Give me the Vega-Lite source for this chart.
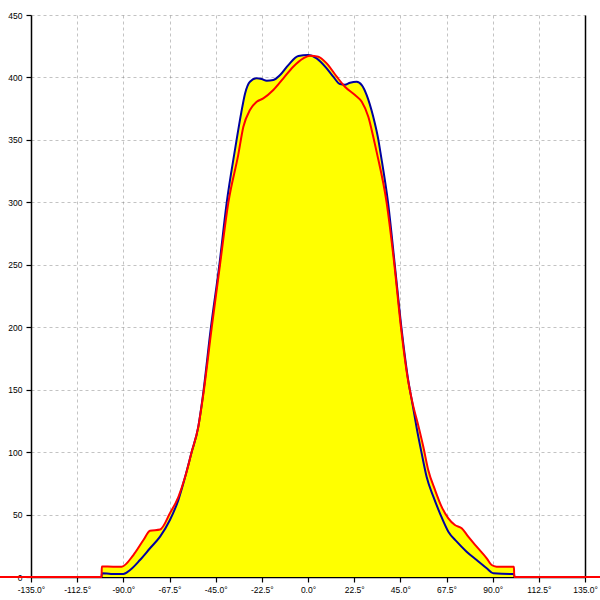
{
  "$schema": "https://vega.github.io/schema/vega-lite/v6.json",
  "width": 554,
  "height": 562,
  "autosize": {"type": "none"},
  "padding": {"left": 31, "top": 15, "right": 15, "bottom": 23},
  "background": "white",
  "config": {
    "view": {"stroke": null},
    "axis": {
      "labelFont": "Liberation Sans",
      "labelFontSize": 8.5,
      "labelColor": "black",
      "domainColor": "black",
      "domainWidth": 1.5,
      "tickColor": "black",
      "tickSize": 5,
      "tickWidth": 1.2,
      "gridColor": "#888888",
      "gridOpacity": 0.5,
      "gridDash": [3, 3],
      "gridWidth": 1,
      "title": null,
      "zindex": 1
    }
  },
  "datasets": {
    "blue": [
      {"a": -100.6, "v": 0}, {"a": -100.5, "v": 3}, {"a": -96, "v": 2.5}, {"a": -90, "v": 2.4},
      {"a": -86.7, "v": 5.6}, {"a": -81.9, "v": 13.6}, {"a": -77, "v": 23}, {"a": -72.1, "v": 32.3},
      {"a": -67.3, "v": 45.6}, {"a": -63.2, "v": 61.6}, {"a": -59.9, "v": 80}, {"a": -56.7, "v": 100},
      {"a": -53.5, "v": 120}, {"a": -51.4, "v": 143}, {"a": -47.3, "v": 200}, {"a": -43.2, "v": 250},
      {"a": -39.6, "v": 300}, {"a": -35.6, "v": 342}, {"a": -34.8, "v": 350}, {"a": -32.5, "v": 372},
      {"a": -30.7, "v": 387}, {"a": -28.3, "v": 396.6}, {"a": -25, "v": 399.3}, {"a": -22.6, "v": 398.7},
      {"a": -20.1, "v": 397.4}, {"a": -16.9, "v": 397.9}, {"a": -13.6, "v": 401.9}, {"a": -9.6, "v": 409.9},
      {"a": -4.7, "v": 417.1}, {"a": 0, "v": 417.9}, {"a": 4.2, "v": 415.3}, {"a": 9.1, "v": 407.3},
      {"a": 12.3, "v": 400.6}, {"a": 15.6, "v": 394.7}, {"a": 18, "v": 394.2}, {"a": 20.5, "v": 395.8},
      {"a": 23.7, "v": 396.6}, {"a": 26.2, "v": 393.9}, {"a": 28.6, "v": 385.9}, {"a": 31.8, "v": 368.5},
      {"a": 34.3, "v": 350}, {"a": 35.3, "v": 340}, {"a": 39, "v": 300}, {"a": 42.3, "v": 250},
      {"a": 45.5, "v": 200}, {"a": 48.8, "v": 158}, {"a": 51.2, "v": 136}, {"a": 53, "v": 119},
      {"a": 55.4, "v": 99}, {"a": 57.8, "v": 80.3}, {"a": 61.1, "v": 64.3}, {"a": 64.3, "v": 51},
      {"a": 68.4, "v": 36.3}, {"a": 72.5, "v": 28.3}, {"a": 77.3, "v": 20.3}, {"a": 82.2, "v": 13.6},
      {"a": 87.1, "v": 7}, {"a": 90.3, "v": 3}, {"a": 100, "v": 2.4}, {"a": 100.5, "v": 2.4}, {"a": 100.6, "v": 0}
    ],
    "red": [
      {"a": -151, "v": 0}, {"a": -100.6, "v": 0}, {"a": -100.5, "v": 8.5}, {"a": -95, "v": 8.3},
      {"a": -90.8, "v": 8.3}, {"a": -85.1, "v": 17.6}, {"a": -80.2, "v": 29.6}, {"a": -77, "v": 37},
      {"a": -72.1, "v": 38}, {"a": -67.3, "v": 51}, {"a": -63.2, "v": 64}, {"a": -59.9, "v": 80},
      {"a": -56.7, "v": 100}, {"a": -53.5, "v": 120}, {"a": -51.3, "v": 143}, {"a": -46.9, "v": 200},
      {"a": -42.9, "v": 250}, {"a": -38.8, "v": 300}, {"a": -34, "v": 338}, {"a": -31.5, "v": 360.5},
      {"a": -28.3, "v": 373.9}, {"a": -25, "v": 380.5}, {"a": -21.8, "v": 383.2}, {"a": -16.9, "v": 389.9},
      {"a": -12, "v": 399.3}, {"a": -7.2, "v": 408.6}, {"a": -2.3, "v": 415.3}, {"a": 1, "v": 417.4},
      {"a": 5, "v": 416.6}, {"a": 9.1, "v": 411.3}, {"a": 14, "v": 400.6}, {"a": 18, "v": 392.6},
      {"a": 22.9, "v": 385.9}, {"a": 26.2, "v": 380.5}, {"a": 29.4, "v": 368.5}, {"a": 31.8, "v": 352.5},
      {"a": 33.5, "v": 340}, {"a": 38.3, "v": 300}, {"a": 42.1, "v": 250}, {"a": 45.3, "v": 200},
      {"a": 48.5, "v": 160}, {"a": 51, "v": 139}, {"a": 53.8, "v": 121}, {"a": 56.2, "v": 104.3},
      {"a": 58.6, "v": 85.7}, {"a": 61.9, "v": 69.7}, {"a": 65.1, "v": 56.3}, {"a": 68.4, "v": 47},
      {"a": 71.6, "v": 41.6}, {"a": 74.9, "v": 39}, {"a": 78.1, "v": 32.3}, {"a": 82.2, "v": 24.3},
      {"a": 87.1, "v": 15}, {"a": 89.5, "v": 9.6}, {"a": 91.9, "v": 8.3}, {"a": 99.2, "v": 8.3},
      {"a": 100.4, "v": 8.3}, {"a": 100.5, "v": 0}, {"a": 151, "v": 0}
    ]
  },
  "layer": [
    {
      "data": {"name": "blue"},
      "mark": {"type": "area", "color": "#ffff00", "clip": true, "interpolate": "monotone"},
      "encoding": {
        "x": {
          "field": "a",
          "type": "quantitative",
          "scale": {"domain": [-135, 135], "nice": false, "zero": false},
          "axis": {
            "values": [-135, -112.5, -90, -67.5, -45, -22.5, 0, 22.5, 45, 67.5, 90, 112.5, 135],
            "labelExpr": "(datum.value < 0 ? '-' : '') + format(abs(datum.value), '.1f') + '°'",
            "labelPadding": 3,
            "labelFlush": false,
            "labelOverlap": false
          }
        },
        "y": {
          "field": "v",
          "type": "quantitative",
          "scale": {"domain": [0, 450], "nice": false},
          "axis": {
            "orient": "left",
            "values": [0, 50, 100, 150, 200, 250, 300, 350, 400, 450],
            "labelPadding": 4,
            "labelFlush": false,
            "labelOverlap": false
          }
        }
      }
    },
    {
      "data": {"name": "red"},
      "mark": {"type": "area", "color": "#ffff00", "clip": true, "interpolate": "monotone"},
      "encoding": {
        "x": {"field": "a", "type": "quantitative"},
        "y": {"field": "v", "type": "quantitative", "axis": null}
      }
    },
    {
      "data": {"name": "blue"},
      "mark": {"type": "line", "color": "#0000a0", "strokeWidth": 2, "clip": true, "interpolate": "monotone"},
      "encoding": {
        "x": {"field": "a", "type": "quantitative"},
        "y": {"field": "v", "type": "quantitative", "axis": null}
      }
    },
    {
      "data": {"name": "red"},
      "mark": {"type": "line", "color": "#ff0000", "strokeWidth": 2, "interpolate": "monotone"},
      "encoding": {
        "x": {"field": "a", "type": "quantitative"},
        "y": {
          "field": "v",
          "type": "quantitative",
          "axis": {"orient": "right", "labels": false, "ticks": false, "grid": false, "domain": true, "labelOpacity": 0, "tickOpacity": 0, "values": [0]}
        }
      }
    }
  ],
  "resolve": {"axis": {"y": "independent"}}
}
